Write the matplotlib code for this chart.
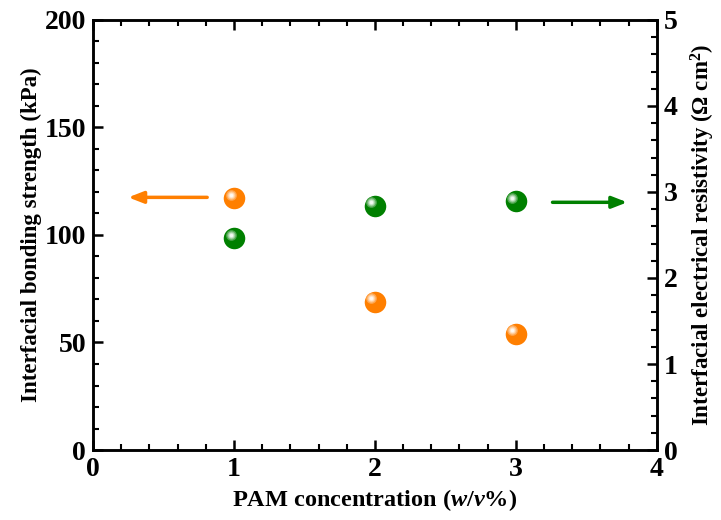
import matplotlib
matplotlib.use("Agg")
import matplotlib.pyplot as plt
import matplotlib.transforms as mtransforms
import numpy as np

plt.rcParams['font.family'] = ['Liberation Serif', 'DejaVu Serif']
plt.rcParams['font.weight'] = 'bold'
plt.rcParams['mathtext.fontset'] = 'custom'
plt.rcParams['mathtext.rm'] = 'Liberation Serif:bold'
plt.rcParams['mathtext.it'] = 'Liberation Serif:bold:italic'
plt.rcParams['mathtext.bf'] = 'Liberation Serif:bold'

# data
pam_conc = [1, 2, 3]
bonding_strength = [117, 69, 54]        # kPa, left axis
resistivity = [2.46, 2.84, 2.89]        # Ohm cm^2, right axis

orange = '#FF7F00'
green = '#008000'


def lighten(c, f):
    rgb = np.array(matplotlib.colors.to_rgb(c))
    return tuple(rgb + (1 - rgb) * f)


def sphere(ax, fig, x, y, color, d=15.5):
    # base ball + highlight layers toward upper-left (d = diameter in points)
    ax.scatter(x, y, s=d**2, color=color, zorder=3, linewidths=0)
    steps = [(0.5, 0.3), (0.38, 0.55), (0.27, 0.78), (0.16, 0.95)]
    for frac, lf in steps:
        off = d * 0.16
        tr = mtransforms.offset_copy(ax.transData, fig=fig, x=-off, y=off, units='points')
        ax.scatter(x, y, s=(d * frac)**2, color=lighten(color, lf),
                   zorder=4, linewidths=0, transform=tr)


fig = plt.figure(figsize=(7.21, 5.20), dpi=100)
ax = fig.add_axes([0.129, 0.1346, 0.782, 0.827])
ax2 = ax.twinx()

sphere(ax, fig, pam_conc, bonding_strength, orange)
sphere(ax2, fig, pam_conc, resistivity, green)

ax.set_xlim(0, 4)
ax.set_ylim(0, 200)
ax2.set_ylim(0, 5)

ax.set_xticks([0, 1, 2, 3, 4])
ax.set_xticks(np.arange(0, 4.01, 0.2), minor=True)
ax.set_yticks([0, 50, 100, 150, 200])
ax.set_yticks(np.arange(0, 201, 10), minor=True)
ax2.set_yticks([0, 1, 2, 3, 4, 5])
ax2.set_yticks(np.arange(0, 5.01, 0.2), minor=True)

for a in (ax, ax2):
    for s in a.spines.values():
        s.set_linewidth(1.8)
    a.tick_params(which='major', direction='in', length=7, width=1.8, labelsize=20, pad=5)
    a.tick_params(which='minor', direction='in', length=4, width=1.5)

ax.tick_params(which='both', top=True, right=False)
ax2.tick_params(which='both', left=False, right=True)

ax.set_xlabel('PAM concentration ($\\mathit{w/v}$%)', fontsize=17.5, fontweight='bold', labelpad=4)
ax.set_ylabel('Interfacial bonding strength (kPa)', fontsize=16.5, fontweight='bold', labelpad=2)
ax2.set_ylabel('Interfacial electrical resistivity (Ω cm$^{2}$)', fontsize=16.5, fontweight='bold', labelpad=8)

# direction arrows
ax.annotate('', xy=(0.25, 117.5), xytext=(0.81, 117.5),
            arrowprops=dict(arrowstyle='-|>,head_length=0.9,head_width=0.35',
                            color=orange, lw=2.5, shrinkA=0, shrinkB=0))
ax2.annotate('', xy=(3.79, 2.88), xytext=(3.26, 2.88),
             arrowprops=dict(arrowstyle='-|>,head_length=0.9,head_width=0.35',
                             color=green, lw=2.5, shrinkA=0, shrinkB=0))

fig.savefig('out.png', dpi=100)
